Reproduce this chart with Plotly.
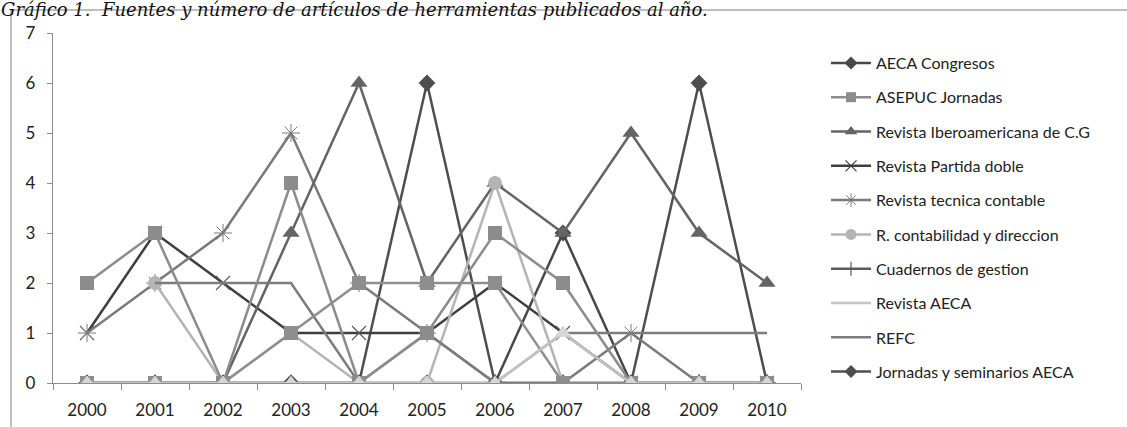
import plotly.graph_objects as go

years = ["2000", "2001", "2002", "2003", "2004", "2005", "2006", "2007", "2008", "2009", "2010"]

aeca_congresos = [0, 0, 0, 0, 0, 0, 0, 3, 0, 0, 0]
asepuc_jornadas = [2, 3, 0, 4, 0, 1, 3, 2, 0, 0, 0]
revista_iberoamericana = [0, 0, 0, 3, 6, 2, 4, 3, 5, 3, 2]
revista_partida_doble = [1, 3, 2, 1, 1, 1, 2, 1, 0, 0, 0]
revista_tecnica_contable = [1, 2, 3, 5, 2, 1, 0, 0, 1, 0, 0]
r_contabilidad_direccion = [None, 2, 0, 1, 0, 0, 4, 0, 0, 0, 0]
cuadernos_gestion = [0, 0, 0, 1, 2, 2, 2, 0, 0, 0, 0]
revista_aeca = [0, 0, 0, 0, 0, 0, 0, 1, 0, 0, 0]
refc = [None, 2, 2, 2, 0, 1, 0, 1, 1, 1, 1]
jornadas_seminarios_aeca = [0, 0, 0, 0, 0, 6, 0, 0, 0, 6, 0]

title_text = "Gráfico 1.  Fuentes y número de artículos de herramientas publicados al año."

# name, values, line colour, chart marker, legend marker
series = [
    ("AECA Congresos", aeca_congresos, "#484848",
     dict(symbol="diamond", size=13, color="#484848"), dict(symbol="diamond", size=10, color="#484848")),
    ("ASEPUC Jornadas", asepuc_jornadas, "#8c8c8c",
     dict(symbol="square", size=14, color="#8c8c8c"), dict(symbol="square", size=10, color="#8c8c8c")),
    ("Revista Iberoamericana de C.G", revista_iberoamericana, "#646464",
     dict(symbol="triangle-up", size=15, color="#646464"), dict(symbol="triangle-up", size=11, color="#646464")),
    ("Revista Partida doble", revista_partida_doble, "#3e3e3e",
     dict(symbol="x-thin-open", size=14, color="#5a5a5a", line=dict(width=1.2, color="#5a5a5a")),
     dict(symbol="x-thin-open", size=11, line=dict(width=1.2, color="#5a5a5a"))),
    ("Revista tecnica contable", revista_tecnica_contable, "#7a7a7a",
     dict(symbol="asterisk-open", size=15, line=dict(width=1, color="#7a7a7a")),
     dict(symbol="asterisk-open", size=11, line=dict(width=1, color="#7a7a7a"))),
    ("R. contabilidad y direccion", r_contabilidad_direccion, "#b4b4b4",
     dict(symbol="circle", size=14, color="#b4b4b4"), dict(symbol="circle", size=11, color="#b4b4b4")),
    ("Cuadernos de gestion", cuadernos_gestion, "#8e8e8e",
     dict(symbol="square", size=14, color="#8e8e8e"),
     dict(symbol="line-ns-open", size=10, line=dict(width=1.2, color="#5a5a5a"))),
    ("Revista AECA", revista_aeca, "#c4c4c4",
     dict(symbol="triangle-up", size=15, color="#d6d6d6"), None),
    ("REFC", refc, "#7c7c7c", None, None),
    ("Jornadas y seminarios AECA", jornadas_seminarios_aeca, "#4e4e4e",
     dict(symbol="diamond", size=13, color="#4e4e4e"), dict(symbol="diamond", size=10, color="#4e4e4e")),
]

legend_colors = {"Cuadernos de gestion": "#5a5a5a"}

# drawing order in the plot (bottom to top)
draw_order = ["AECA Congresos", "Jornadas y seminarios AECA", "Revista Partida doble",
              "Revista tecnica contable", "Revista Iberoamericana de C.G",
              "R. contabilidad y direccion", "REFC", "Cuadernos de gestion",
              "ASEPUC Jornadas", "Revista AECA"]

fig = go.Figure()

# legend entries
for i, (name, vals, col, mk, lmk) in enumerate(series):
    lc = legend_colors.get(name, col)
    tr = dict(x=[None], y=[None], name=name, legendgroup=name, showlegend=True,
              line=dict(color=lc, width=2.5))
    if lmk is not None:
        tr["mode"] = "lines+markers"
        tr["marker"] = lmk
    else:
        tr["mode"] = "lines"
    fig.add_trace(go.Scatter(**tr))

# data
lookup = {s[0]: s for s in series}
for name in draw_order:
    _, vals, col, mk, lmk = lookup[name]
    tr = dict(x=years, y=vals, name=name, legendgroup=name, showlegend=False,
              line=dict(color=col, width=2.5), hoverinfo="x+y+name")
    if mk is not None:
        tr["mode"] = "lines+markers"
        tr["marker"] = mk
    else:
        tr["mode"] = "lines"
    fig.add_trace(go.Scatter(**tr))

L, T, PW, PH = 53, 33, 748, 350
W, H = 1127, 427


def px(xp):
    return (xp - L) / PW


def py(yp):
    return 1 - (yp - T) / PH


fig.update_layout(
    width=W, height=H,
    margin=dict(l=L, r=W - L - PW, t=T, b=H - T - PH, pad=0, autoexpand=False),
    paper_bgcolor="white", plot_bgcolor="white",
    font=dict(family="Lato, 'Open Sans', sans-serif", size=16, color="#222222"),
    showlegend=True,
    legend=dict(x=px(826), y=py(46), xanchor="left", yanchor="top",
                font=dict(size=16, color="#222222"), tracegroupgap=10.5,
                bgcolor="rgba(0,0,0,0)", itemwidth=40, maxheight=420),
    xaxis=dict(type="category", range=[-0.5, 10.5], showgrid=False, zeroline=False,
               showline=True, linecolor="#8c8c8c", linewidth=1.3, automargin=False,
               ticks="outside", ticklen=6, tickcolor="#8c8c8c", tickson="boundaries",
               ticklabelstandoff=11, tickfont=dict(size=17)),
    yaxis=dict(range=[0, 7], dtick=1, showgrid=False, zeroline=False,
               showline=True, linecolor="#8c8c8c", linewidth=1.3, automargin=False,
               ticks="outside", ticklen=5, tickcolor="#8c8c8c",
               ticklabelstandoff=8, tickfont=dict(size=17)),
)

# chart frame (Excel chart area border)
fig.add_shape(type="line", xref="paper", yref="paper", x0=px(11), x1=px(1127), y0=py(10), y1=py(10),
              line=dict(color="#a8a8a8", width=1.5))
fig.add_shape(type="line", xref="paper", yref="paper", x0=px(11), x1=px(11), y0=py(10), y1=py(427),
              line=dict(color="#a8a8a8", width=1.5))

fig.add_annotation(text="<i>" + title_text + "</i>", xref="paper", yref="paper", x=px(0), y=py(-2),
                   xanchor="left", yanchor="top", showarrow=False, borderpad=0,
                   font=dict(family="'DejaVu Serif', 'Liberation Serif', serif", size=18, color="#111111"))

fig.write_html("out.html", config={"displayModeBar": False},
               post_script="document.body.style.margin='0';document.body.style.padding='0';")
